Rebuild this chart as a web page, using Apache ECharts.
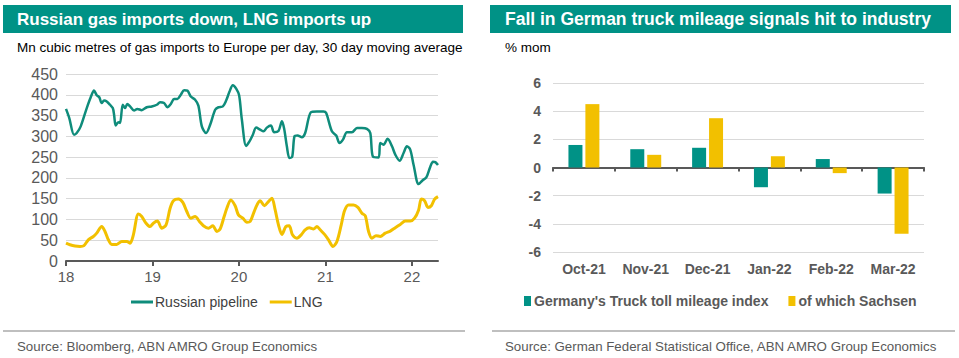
<!DOCTYPE html>
<html><head><meta charset="utf-8">
<script src="https://cdn.jsdelivr.net/npm/echarts@6/dist/echarts.min.js"></script>
<style>html,body{margin:0;padding:0;background:#fff}#c{width:959px;height:358px}</style>
</head><body><div id="c"></div>
<script>
// ---- Left chart data (x = decimal year, 18 = 2018) ----
const russiaT = [18.000,18.038,18.093,18.124,18.170,18.240,18.286,18.324,18.355,18.385,18.413,18.440,18.471,18.509,18.541,18.556,18.575,18.605,18.625,18.656,18.683,18.709,18.741,18.787,18.825,18.876,18.934,18.992,19.050,19.088,19.134,19.172,19.212,19.250,19.288,19.328,19.366,19.404,19.443,19.493,19.531,19.571,19.620,19.667,19.725,19.763,19.814,19.852,19.890,19.929,19.968,20.002,20.034,20.083,20.122,20.161,20.199,20.245,20.284,20.323,20.369,20.407,20.457,20.497,20.523,20.554,20.584,20.616,20.642,20.677,20.728,20.766,20.832,20.902,20.978,21.009,21.075,21.125,21.163,21.203,21.249,21.307,21.365,21.422,21.480,21.519,21.550,21.615,21.634,21.672,21.719,21.770,21.808,21.858,21.904,21.943,21.981,22.020,22.078,22.128,22.167,22.213,22.244,22.271,22.302];
const russiaV = [366,344,304,308,324,368,394,410,399,394,380,386,384,376,368,352,326,334,332,376,368,378,372,362,366,363,370,372,376,382,380,370,378,390,390,400,411,410,396,388,374,324,308,328,364,370,372,386,407,423,415,399,340,277,288,304,321,316,312,321,326,310,313,336,318,276,248,251,300,302,298,308,358,360,360,356,312,302,284,292,310,310,320,320,318,308,251,249,284,280,294,276,256,241,260,276,268,231,185,195,201,227,239,238,231];
const lngT = [18.000,18.046,18.104,18.162,18.208,18.258,18.316,18.355,18.413,18.451,18.490,18.529,18.587,18.645,18.703,18.741,18.779,18.837,18.876,18.926,18.972,19.010,19.057,19.108,19.157,19.204,19.242,19.300,19.351,19.397,19.443,19.493,19.543,19.589,19.647,19.698,19.744,19.782,19.829,19.860,19.906,19.956,19.994,20.045,20.091,20.130,20.176,20.214,20.245,20.295,20.341,20.381,20.419,20.457,20.497,20.543,20.581,20.619,20.670,20.720,20.766,20.813,20.862,20.902,20.940,20.990,21.036,21.087,21.133,21.183,21.221,21.267,21.325,21.376,21.422,21.461,21.499,21.538,21.585,21.634,21.692,21.750,21.808,21.866,21.924,21.981,22.031,22.078,22.109,22.147,22.186,22.225,22.263,22.302];
const lngV = [43,39,36,35,37,51,59,67,83,71,51,40,40,47,47,43,63,113,107,91,83,91,96,79,87,127,145,149,141,119,103,107,95,85,79,85,71,77,107,127,147,133,111,103,93,95,119,137,145,133,143,151,123,87,64,83,85,63,55,63,75,80,77,83,75,64,51,35,47,87,121,135,135,129,115,109,71,55,61,59,67,72,80,88,96,96,103,123,149,145,129,133,149,155];
const yearTicks = [18,19,20,21,22];
const leftSeriesNames = ['Russian pipeline','LNG'];

// ---- Right chart data ----
const months = ['Oct-21','Nov-21','Dec-21','Jan-22','Feb-22','Mar-22'];
const truckGermany = [1.6,1.3,1.4,-1.4,0.6,-1.85];
const truckSachsen = [4.5,0.9,3.5,0.8,-0.4,-4.7];
const rightSeriesNames = ["Germany's Truck toll mileage index",'of which Sachsen'];

const TEAL='#009286', LINE_TEAL='#0f8c7b', YEL='#f2c000', AX='#595959', GRID='#d9d9d9';
const FF='Liberation Sans, Arial, sans-serif';

const chart = echarts.init(document.getElementById('c'), null, {renderer:'svg'});
const zip = (a,b)=>a.map((v,i)=>[v,b[i]]);

chart.setOption({
  animation:false,
  textStyle:{fontFamily:FF},
  graphic:[
    {type:'rect',shape:{x:3,y:5,width:460,height:28},style:{fill:TEAL},silent:true},
    {type:'rect',shape:{x:490,y:5,width:461,height:28},style:{fill:TEAL},silent:true},
    {type:'text',x:17,y:19,style:{text:'Russian gas imports down, LNG imports up',fill:'#fff',font:'bold 17px '+FF,verticalAlign:'middle'}},
    {type:'text',x:505,y:19,style:{text:'Fall in German truck mileage signals hit to industry',fill:'#fff',font:'bold 17.5px '+FF,verticalAlign:'middle'}},
    {type:'text',x:17,y:47,style:{text:'Mn cubic metres of gas imports to Europe per day, 30 day moving average',fill:'#000',font:'13.5px '+FF,verticalAlign:'middle'}},
    {type:'text',x:505,y:47,style:{text:'% mom',fill:'#000',font:'13.5px '+FF,verticalAlign:'middle'}},
    {type:'line',shape:{x1:3,y1:331,x2:465,y2:331},style:{stroke:'#bfbfbf',lineWidth:2}},
    {type:'line',shape:{x1:492,y1:331,x2:955,y2:331},style:{stroke:'#bfbfbf',lineWidth:2}},
    {type:'text',x:17,y:346,style:{text:'Source: Bloomberg, ABN AMRO Group Economics',fill:'#595959',font:'13.3px '+FF,verticalAlign:'middle'}},
    {type:'text',x:505,y:346,style:{text:'Source: German Federal Statistical Office, ABN AMRO Group Economics',fill:'#595959',font:'13.3px '+FF,verticalAlign:'middle'}}
  ],
  legend:[
    {data:leftSeriesNames, left:126, top:290, itemWidth:22, itemHeight:3, itemGap:12,
     icon:'rect', textStyle:{fontSize:14,color:'#404040',padding:[0,0,0,-3]}},
    {data:rightSeriesNames, left:519, top:289, itemWidth:7, itemHeight:10, itemGap:20,
     icon:'rect', textStyle:{fontSize:14,fontWeight:'bold',color:AX,padding:[0,0,0,-2]}}
  ],
  grid:[
    {left:66,right:521,top:74,bottom:97},
    {left:553,right:35,top:83,bottom:106}
  ],
  xAxis:[
    {type:'value',gridIndex:0,min:18,max:22.302,interval:1,
     axisLine:{lineStyle:{color:AX,width:2}},
     axisTick:{show:true,length:5,lineStyle:{color:AX,width:2},customValues:yearTicks},
     axisLabel:{color:AX,fontSize:15,margin:8,customValues:yearTicks},
     splitLine:{show:false}},
    {type:'category',gridIndex:1,data:months,
     axisLine:{onZero:true,lineStyle:{color:AX,width:2}},
     axisTick:{show:true,length:4,lineStyle:{color:AX,width:2}},
     axisLabel:{show:false}},
    {type:'category',gridIndex:1,data:months,position:'bottom',
     axisLine:{show:false,onZero:false},axisTick:{show:false},
     axisLabel:{color:AX,fontSize:14,fontWeight:'bold',margin:10}}
  ],
  yAxis:[
    {type:'value',gridIndex:0,min:0,max:450,interval:50,
     axisLine:{show:false},axisTick:{show:false},
     axisLabel:{color:AX,fontSize:16,margin:8},
     splitLine:{lineStyle:{color:GRID,width:1}}},
    {type:'value',gridIndex:1,min:-6,max:6,interval:2,
     axisLine:{show:false},axisTick:{show:false},
     axisLabel:{color:AX,fontSize:14,fontWeight:'bold',margin:12},
     splitLine:{lineStyle:{color:GRID,width:1}}}
  ],
  series:[
    {name:leftSeriesNames[0],type:'line',xAxisIndex:0,yAxisIndex:0,data:zip(russiaT,russiaV),
     showSymbol:false,smooth:0.3,lineStyle:{color:LINE_TEAL,width:2.5},itemStyle:{color:LINE_TEAL}},
    {name:leftSeriesNames[1],type:'line',xAxisIndex:0,yAxisIndex:0,data:zip(lngT,lngV),
     showSymbol:false,smooth:0.3,lineStyle:{color:YEL,width:3},itemStyle:{color:YEL}},
    {name:rightSeriesNames[0],type:'bar',xAxisIndex:1,yAxisIndex:1,data:truckGermany,
     barWidth:14,barGap:'21%',itemStyle:{color:TEAL}},
    {name:rightSeriesNames[1],type:'bar',xAxisIndex:1,yAxisIndex:1,data:truckSachsen,
     barWidth:14,barGap:'21%',itemStyle:{color:YEL}}
  ]
});
</script></body></html>
